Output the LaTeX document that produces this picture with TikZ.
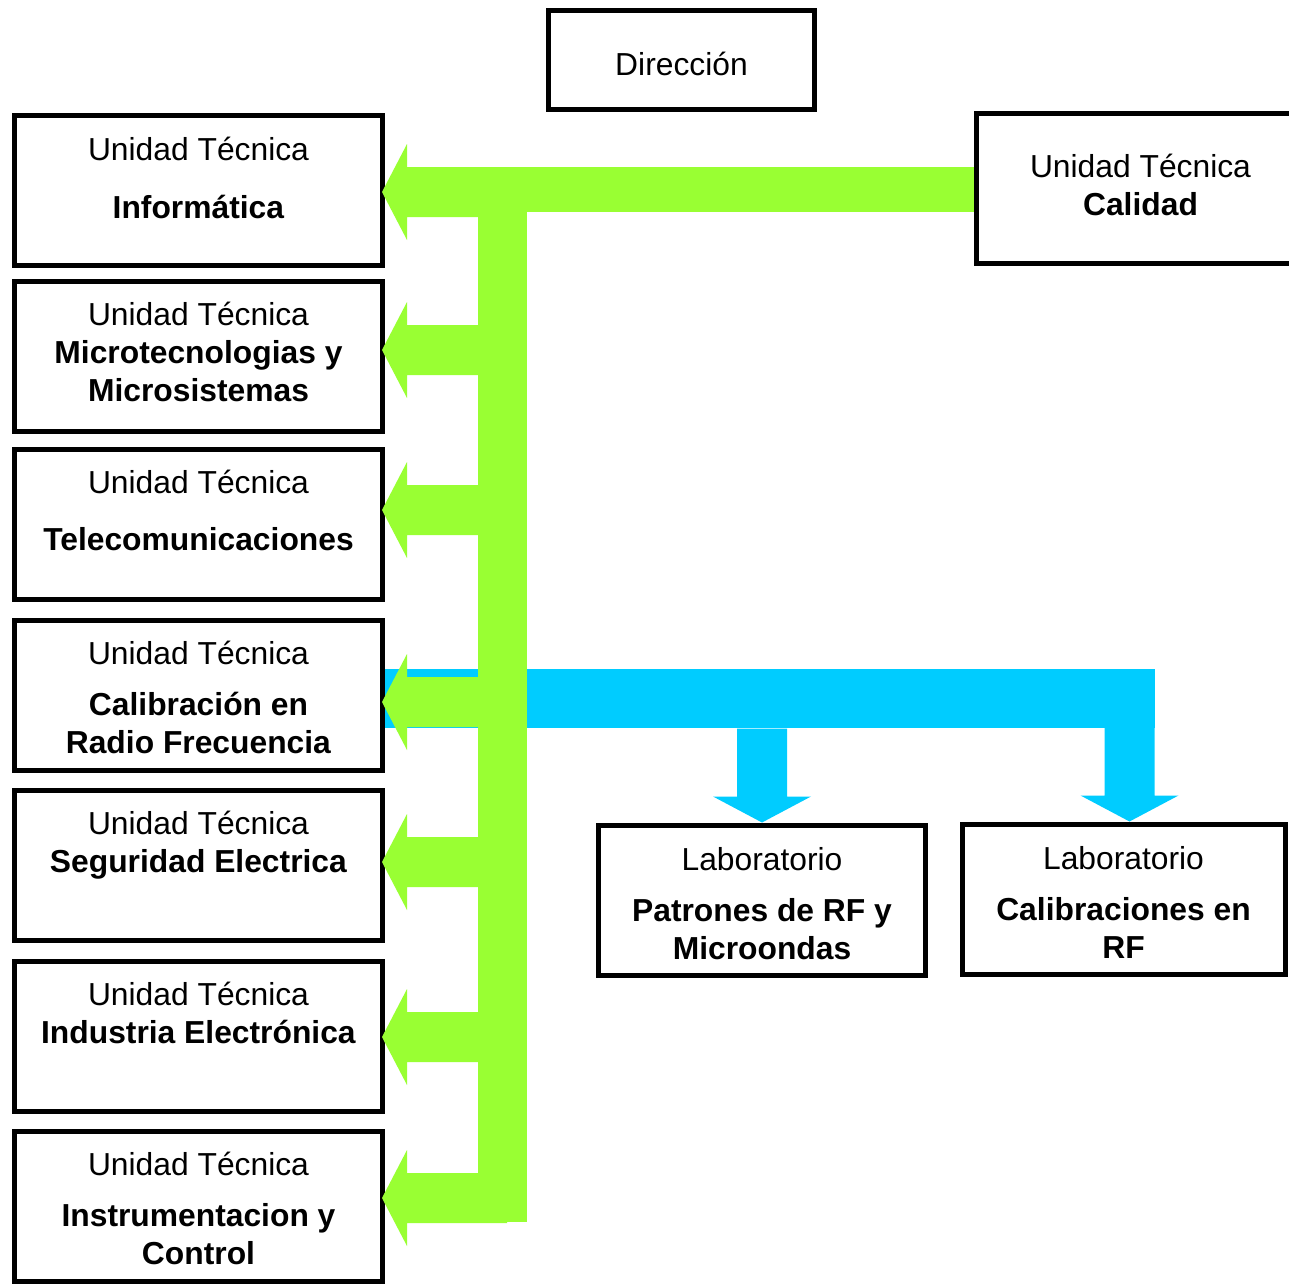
\documentclass[tikz,border=0pt]{standalone}
\usepackage{fontspec}
\setmainfont{Liberation Sans}
\usetikzlibrary{calc}
\definecolor{grn}{RGB}{153,255,51}
\definecolor{blu}{RGB}{0,204,255}
\tikzset{box/.style={draw, line width=5pt, minimum width=368pt, minimum height=150pt, inner sep=0pt},
  lbl/.style={anchor=base, align=center, inner sep=0pt, font=\fontsize{31.8}{38}\selectfont}}

\begin{document}
\begin{tikzpicture}[x=1pt,y=-1pt]
\useasboundingbox (0,0) rectangle (1289,1283);
% boxes
\node[box, minimum width=266pt, minimum height=99pt] (dir) at (681.5,60) {};
\node[box] (inf) at (198.5,190.5) {};
\node[box] (mic) at (198.5,356) {};
\node[box] (tel) at (198.5,524) {};
\node[box] (crf) at (198.5,695) {};
\node[box] (seg) at (198.5,865) {};
\node[box] (ind) at (198.5,1036) {};
\node[box] (ins) at (198.5,1206) {};
\node[box, minimum width=328pt] (cal) at (1140.5,188) {};
\node[box, minimum width=327pt] (pat) at (762,900) {};
\node[box, minimum width=323pt] (clb) at (1123.5,899) {};
% texts (base = last line)
\node[lbl] (dirT) at ([yshift=-67pt]dir.north) {Dirección};
\node[lbl] (infT) at ([yshift=-105pt]inf.north) {Unidad Técnica\\[20pt]\textbf{Informática}};
\node[lbl] (micT) at ([yshift=-123pt]mic.north) {Unidad Técnica\\\textbf{Microtecnologias y}\\\textbf{Microsistemas}};
\node[lbl] (telT) at ([yshift=-104pt]tel.north) {Unidad Técnica\\[19pt]\textbf{Telecomunicaciones}};
\node[lbl] (crfT) at ([yshift=-136pt]crf.north) {Unidad Técnica\\[13pt]\textbf{Calibración en}\\\textbf{Radio Frecuencia}};
\node[lbl] (segT) at ([yshift=-85pt]seg.north) {Unidad Técnica\\\textbf{Seguridad Electrica}};
\node[lbl] (indT) at ([yshift=-85pt]ind.north) {Unidad Técnica\\\textbf{Industria Electrónica}};
\node[lbl] (insT) at ([yshift=-136pt]ins.north) {Unidad Técnica\\[13pt]\textbf{Instrumentacion y}\\\textbf{Control}};
\node[lbl] (calT) at ([yshift=-105pt]cal.north) {Unidad Técnica\\\textbf{Calidad}};
\node[lbl] (patT) at ([yshift=-137pt]pat.north) {Laboratorio\\[13pt]\textbf{Patrones de RF y}\\\textbf{Microondas}};
\node[lbl] (clbT) at ([yshift=-137pt]clb.north) {Laboratorio\\[13pt]\textbf{Calibraciones en}\\\textbf{RF}};

% blue branch to the laboratories
\fill[blu] (crf.east |- 0,669) rectangle (1155,728);
\fill[blu] (pat.north) -- ++(49,-26) -- ++(-24,0) -- ++(0,-68) -- ++(-50,0) -- ++(0,68) -- ++(-24,0) -- cycle;
\fill[blu] ([xshift=6pt]clb.north) -- ++(49,-26) -- ++(-24,0) -- ++(0,-68) -- ++(-50,0) -- ++(0,68) -- ++(-24,0) -- cycle;

% green trunk from Calidad
\fill[grn] (478,167) rectangle (527,1222);
\fill[grn] (478,167) rectangle ([yshift=-24pt]cal.west);
\fill[grn] ([xshift=-3pt,yshift=-1.5pt]inf.east) -- ++(25,-48) -- ++(0,23) -- ++(100,0) -- ++(0,50) -- ++(-100,0) -- ++(0,23) -- cycle;
\fill[grn] ([xshift=-3pt,yshift=6pt]mic.east) -- ++(25,-48) -- ++(0,23) -- ++(100,0) -- ++(0,50) -- ++(-100,0) -- ++(0,23) -- cycle;
\fill[grn] ([xshift=-3pt,yshift=14pt]tel.east) -- ++(25,-48) -- ++(0,23) -- ++(100,0) -- ++(0,50) -- ++(-100,0) -- ++(0,23) -- cycle;
\fill[grn] ([xshift=-3pt,yshift=-7pt]crf.east) -- ++(25,-48) -- ++(0,23) -- ++(100,0) -- ++(0,50) -- ++(-100,0) -- ++(0,23) -- cycle;
\fill[grn] ([xshift=-3pt,yshift=3pt]seg.east) -- ++(25,-48) -- ++(0,23) -- ++(100,0) -- ++(0,50) -- ++(-100,0) -- ++(0,23) -- cycle;
\fill[grn] ([xshift=-3pt,yshift=-1pt]ind.east) -- ++(25,-48) -- ++(0,23) -- ++(100,0) -- ++(0,50) -- ++(-100,0) -- ++(0,23) -- cycle;
\fill[grn] ([xshift=-3pt,yshift=8pt]ins.east) -- ++(25,-48) -- ++(0,23) -- ++(100,0) -- ++(0,50) -- ++(-100,0) -- ++(0,23) -- cycle;

\end{tikzpicture}
\end{document}
